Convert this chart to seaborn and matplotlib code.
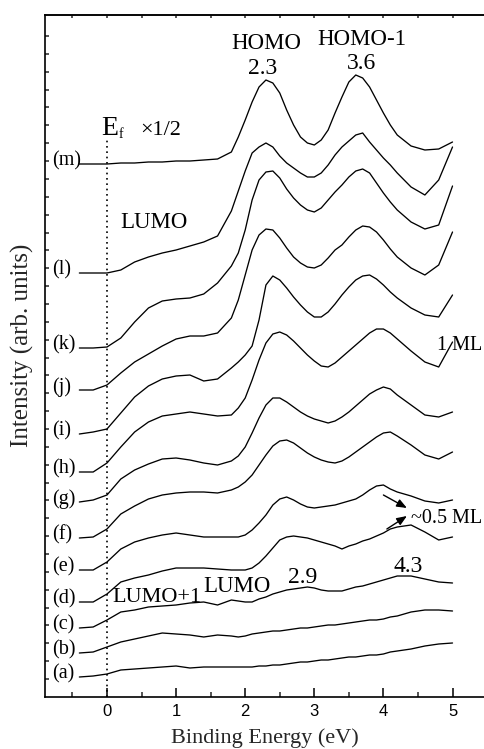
import numpy as np
import pandas as pd
import matplotlib
matplotlib.use("Agg")
import matplotlib.pyplot as plt
import seaborn as sns

# ---------------- data ----------------
energy = [-0.4, -0.2, 0.0, 0.2, 0.4, 0.6, 0.8, 1.0, 1.2, 1.4, 1.6,
          1.8, 1.9, 2.0, 2.1, 2.2, 2.3, 2.4, 2.5, 2.6, 2.7, 2.8, 2.9, 3.0,
          3.1, 3.2, 3.3, 3.4, 3.5, 3.6, 3.7, 3.8, 3.9, 4.0, 4.1, 4.2,
          4.4, 4.6, 4.8, 5.0]

spec_a = [20, 21, 23, 27, 28, 29, 30, 31, 29, 30, 30, 30, 30, 30, 30, 31, 31, 32, 32, 33,
          34, 35, 35, 36, 37, 37, 38, 39, 40, 40, 41, 42, 42, 43, 45, 46, 48, 51, 53, 54]
spec_b = [44, 45, 50, 55, 58, 61, 64, 63, 62, 60, 62, 61, 60, 61, 63, 64, 65, 66, 66, 67,
          68, 69, 69, 70, 71, 72, 72, 73, 74, 75, 76, 77, 77, 78, 80, 81, 85, 87, 87, 86]
spec_c = [69, 70, 77, 85, 87, 90, 91, 92, 94, 95, 92, 97, 96, 95, 95, 98, 100, 103, 105, 107,
          108, 109, 110, 109, 107, 106, 106, 106, 108, 110, 111, 113, 115, 117, 119, 121, 121, 118, 115, 114]
spec_d = [95, 95, 103, 115, 119, 122, 126, 129, 129, 129, 128, 127, 127, 127, 129, 134, 141, 149, 157, 160,
          161, 160, 159, 157, 155, 153, 151, 148, 151, 153, 156, 158, 161, 164, 168, 170, 172, 165, 157, 160]
spec_e = [127, 127, 135, 148, 155, 159, 162, 164, 162, 160, 160, 160, 160, 162, 167, 174, 182, 192, 198, 200,
          197, 193, 190, 189, 190, 191, 192, 194, 196, 198, 202, 207, 211, 212, 208, 205, 201, 196, 194, 197]
spec_f = [159, 160, 168, 183, 191, 198, 202, 204, 205, 205, 204, 207, 210, 215, 222, 232, 242, 251, 256, 257,
          254, 249, 244, 240, 237, 235, 234, 236, 240, 245, 250, 255, 260, 264, 265, 261, 252, 242, 238, 245]
spec_g = [195, 197, 202, 218, 227, 233, 238, 239, 237, 234, 232, 236, 241, 250, 264, 279, 292, 299, 299, 295,
          290, 285, 281, 278, 276, 274, 276, 280, 285, 291, 297, 303, 307, 310, 308, 302, 292, 282, 280, 285]
spec_h = [225, 225, 234, 250, 265, 275, 281, 283, 285, 283, 281, 282, 289, 299, 317, 337, 354, 363, 365, 362,
          356, 349, 342, 336, 331, 330, 334, 340, 346, 352, 358, 364, 368, 368, 364, 358, 346, 335, 330, 355]
spec_i = [263, 265, 268, 284, 300, 311, 318, 321, 322, 316, 318, 329, 335, 342, 351, 377, 412, 421, 417, 409,
          400, 392, 385, 380, 380, 385, 393, 402, 410, 417, 421, 422, 418, 412, 405, 399, 389, 382, 380, 402]
spec_j = [307, 307, 312, 324, 335, 343, 351, 358, 361, 361, 364, 379, 397, 422, 447, 462, 468, 467, 459, 449,
          440, 434, 430, 429, 432, 439, 447, 452, 460, 467, 471, 470, 465, 457, 448, 440, 429, 422, 432, 465]
spec_k = [349, 349, 350, 359, 375, 389, 396, 398, 399, 403, 414, 431, 444, 467, 497, 517, 525, 526, 519, 508,
          499, 492, 487, 485, 489, 497, 505, 512, 520, 526, 528, 524, 514, 504, 495, 487, 475, 468, 472, 511]
spec_l = [424, 424, 424, 427, 435, 440, 444, 447, 451, 455, 461, 486, 506, 526, 544, 550, 554, 550, 541, 534,
          529, 524, 520, 520, 524, 532, 542, 550, 556, 562, 564, 555, 547, 539, 532, 524, 510, 502, 517, 550]
spec_m = [533, 533, 533, 534, 534, 535, 535, 536, 536, 537, 538, 545, 560, 577, 595, 610, 617, 614, 604, 587,
          572, 560, 554, 552, 557, 567, 584, 600, 615, 622, 619, 610, 597, 584, 572, 562, 551, 547, 548, 555]

curve_labels = ["(a)", "(b)", "(c)", "(d)", "(e)", "(f)", "(g)", "(h)", "(i)", "(j)", "(k)", "(l)", "(m)"]
spectra = [spec_a, spec_b, spec_c, spec_d, spec_e, spec_f, spec_g, spec_h, spec_i, spec_j, spec_k, spec_l, spec_m]

x_ticks = [0, 1, 2, 3, 4, 5]
x_label = "Binding Energy (eV)"
y_label = "Intensity (arb. units)"

# ---------------- long-form table ----------------
rows = []
for lab, vals in zip(curve_labels, spectra):
    for e, v in zip(energy, vals):
        rows.append({"energy": e, "intensity": v, "curve": lab})
df = pd.DataFrame(rows)

# ---------------- style ----------------
sns.set_theme(style="white")
plt.rcParams["font.family"] = ["Liberation Serif", "DejaVu Serif"]

W, H = 485, 749
fig = plt.figure(figsize=(W / 100, H / 100), dpi=100)
ax = fig.add_axes([45 / W, (H - 697) / H, 440 / W, 682 / H])

sns.lineplot(data=df, x="energy", y="intensity", hue="curve", estimator=None,
             palette={lab: "black" for lab in curve_labels}, legend=False,
             linewidth=0.95, ax=ax)

ax.set_xlim(-0.897, 5.47)
ax.set_ylim(0, 682)

# dotted Fermi level line
ax.vlines(0, 0, 557, colors="black", linestyles=(0, (1, 2.2)), linewidth=1.2)

# curve labels
for lab, vals in zip(curve_labels, spectra):
    ax.text(-0.79, vals[0] + 3, lab, ha="left", va="center", fontsize=14.5, color="black")

txt_kw = dict(color="black", va="baseline", ha="left")
ax.text(1.80, 648, "HOMO", fontsize=16.5, **txt_kw)
ax.text(2.04, 623, "2.3", fontsize=17, **txt_kw)
ax.text(3.05, 652, "HOMO-1", fontsize=16.5, **txt_kw)
ax.text(3.47, 628, "3.6", fontsize=17, **txt_kw)
ax.text(-0.077, 562, "E", fontsize=20, **txt_kw)
ax.text(0.175, 559, "f", fontsize=10, **txt_kw)
ax.text(0.478, 562, "\u00d71/2", fontsize=16, **txt_kw)
ax.text(0.188, 469, "LUMO", fontsize=16.5, **txt_kw)
ax.text(5.435, 347, "1 ML", fontsize=14.5, color="black", va="baseline", ha="right")
ax.text(5.435, 174, "~0.5 ML", fontsize=14.5, color="black", va="baseline", ha="right")
ax.text(0.072, 95, "LUMO+1", fontsize=16, **txt_kw)
ax.text(1.39, 105, "LUMO", fontsize=16.5, **txt_kw)
ax.text(2.62, 114, "2.9", fontsize=17, **txt_kw)
ax.text(4.14, 125, "4.3", fontsize=17, **txt_kw)

arrow_kw = dict(arrowstyle="-|>,head_length=0.5,head_width=0.2", color="black", lw=1.0,
                shrinkA=0, shrinkB=0)
ax.annotate("", xy=(4.34, 189), xytext=(4.0, 202), arrowprops=arrow_kw)
ax.annotate("", xy=(4.34, 181), xytext=(4.05, 168), arrowprops=arrow_kw)

# axes / ticks
for s in ["left", "bottom", "top"]:
    ax.spines[s].set_visible(True)
    ax.spines[s].set_color("black")
    ax.spines[s].set_linewidth(1.2)
ax.spines["right"].set_visible(False)

ax.set_xticks(x_ticks)
ax.set_xticks([-0.5, 0.5, 1.5, 2.5, 3.5, 4.5], minor=True)
ax.set_xticklabels([str(t) for t in x_ticks], fontfamily="Liberation Sans", fontsize=12)
ax.tick_params(axis="x", which="major", direction="in", length=6.5, width=1.1,
               bottom=True, top=False, pad=5, colors="black")
ax.tick_params(axis="x", which="minor", direction="in", length=3.6, width=1.1,
               bottom=True, top=False)

ax.set_yticks(np.arange(18, 670, 17.86))
ax.tick_params(axis="y", which="major", direction="in", length=2.6, width=1.1,
               left=True, right=False, labelleft=False)

top = ax.secondary_xaxis("top")
top.set_xticks(np.arange(-0.5, 5.6, 0.5))
top.tick_params(direction="in", length=2.5, width=1.1, labeltop=False)
top.spines["top"].set_linewidth(1.2)

ax.set_xlabel(x_label, fontsize=16, labelpad=7)
ax.set_ylabel(y_label, fontsize=18)
ax.yaxis.set_label_coords(-11 / 440, (697 - 345) / 682)

fig.savefig("out.png", dpi=100, facecolor="white")
